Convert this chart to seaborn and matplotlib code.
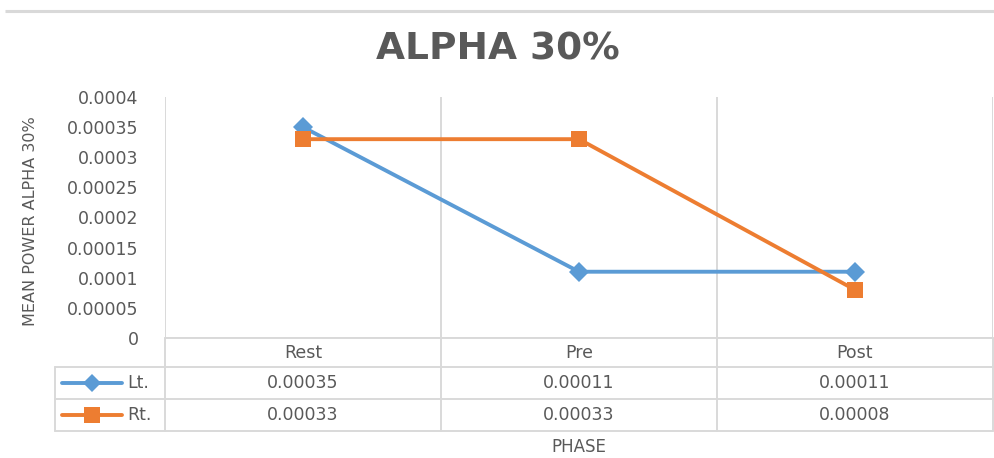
import matplotlib
matplotlib.use("Agg")
import matplotlib.pyplot as plt
import seaborn as sns
import pandas as pd
from matplotlib.ticker import FixedLocator, FuncFormatter

# ---- data ----
phases = ["Rest", "Pre", "Post"]
series_names = ["Lt.", "Rt."]
lt_values = [0.00035, 0.00011, 0.00011]
rt_values = [0.00033, 0.00033, 0.00008]
table_lt = ["0.00035", "0.00011", "0.00011"]
table_rt = ["0.00033", "0.00033", "0.00008"]
y_ticks = [0, 0.00005, 0.0001, 0.00015, 0.0002, 0.00025, 0.0003, 0.00035, 0.0004]
title = "ALPHA 30%"
y_label = "MEAN POWER ALPHA 30%"
x_label = "PHASE"

df = pd.DataFrame({
    "phase": phases * 2,
    "value": lt_values + rt_values,
    "series": [series_names[0]] * 3 + [series_names[1]] * 3,
})

sns.set_theme(style="white")
plt.rcParams["font.family"] = ["DejaVu Sans"]

BLUE = "#5B9BD5"
ORANGE = "#ED7D31"
GRID = "#D9D9D9"
TXT = "#595959"
palette = {series_names[0]: BLUE, series_names[1]: ORANGE}
markers = {series_names[0]: "D", series_names[1]: "s"}
msize = {series_names[0]: 10, series_names[1]: 12}

W, H = 994, 458
fig = plt.figure(figsize=(W / 100, H / 100), dpi=100)
fig.patch.set_facecolor("white")

L, R, T, B = 165, 993, 97, 338
ax = fig.add_axes([L / W, (H - B) / H, (R - L) / W, (B - T) / H])
ax.set_facecolor("none")

sns.lineplot(data=df, x="phase", y="value", hue="series", style="series",
             palette=palette, markers=markers, dashes=False, sort=False,
             linewidth=2.8, markersize=10, markeredgewidth=0, ax=ax,
             legend=False, zorder=5)
for line, s in zip(ax.lines, series_names):
    line.set_markersize(msize[s])
    line.set_clip_on(False)

n = len(phases)
ax.set_xlim(-0.5, n - 0.5)
ax.set_ylim(0, 0.0004)
for sp in ax.spines.values():
    sp.set_visible(False)
for xv in [i - 0.5 for i in range(n + 1)]:
    ax.axvline(xv, color=GRID, lw=1.4, zorder=1)
ax.axhline(0, color=GRID, lw=1.4, zorder=1)

ax.yaxis.set_major_locator(FixedLocator(y_ticks))
ax.yaxis.set_major_formatter(FuncFormatter(
    lambda v, p: "0" if v == 0 else f"{v:.5f}".rstrip("0").rstrip(".")))
ax.tick_params(axis="y", length=0, pad=19, labelsize=12.5, labelcolor=TXT)
ax.set_xticks([])
ax.set_xlabel("")
ax.set_ylabel("")

# ---- overlay in pixel coordinates for title, table, labels ----
ov = fig.add_axes([0, 0, 1, 1], zorder=-1)
ov.set_xlim(0, W)
ov.set_ylim(H, 0)
ov.axis("off")

def px(xd):
    return ax.transData.transform((xd, 0))[0]

ov.plot([5, W], [11, 11], color=GRID, lw=2.2, solid_capstyle="butt")
ov.text(W / 2 + 1, 50, title, ha="center", va="center", fontsize=27,
        fontweight="bold", color=TXT)
ov.text(31, (T + B) / 2 + 4, y_label, rotation=90, ha="center", va="center",
        fontsize=11.5, color=TXT)

edges = [px(i - 0.5) for i in range(n + 1)]
rows = [B, 367, 399, 431]
leg_left = 55
# horizontal table lines
ov.plot([edges[0], edges[-1]], [rows[0], rows[0]], color=GRID, lw=1.4)
for yv in rows[1:]:
    ov.plot([leg_left, edges[-1]], [yv, yv], color=GRID, lw=1.4)
# vertical table lines
for xv in edges:
    ov.plot([xv, xv], [rows[0], rows[-1]], color=GRID, lw=1.4)
ov.plot([leg_left, leg_left], [rows[1], rows[-1]], color=GRID, lw=1.4)

centers = [px(i) for i in range(n)]
cy = [(rows[i] + rows[i + 1]) / 2 for i in range(3)]
for c, p in zip(centers, phases):
    ov.text(c, cy[0], p, ha="center", va="center", fontsize=12.5, color=TXT)
for c, v in zip(centers, table_lt):
    ov.text(c, cy[1], v, ha="center", va="center", fontsize=12.5, color=TXT)
for c, v in zip(centers, table_rt):
    ov.text(c, cy[2], v, ha="center", va="center", fontsize=12.5, color=TXT)

for s, yv in zip(series_names, cy[1:]):
    ov.plot([62, 122], [yv, yv], color=palette[s], lw=2.8,
            solid_capstyle="round")
    ov.plot([92], [yv], marker=markers[s], color=palette[s],
            markersize=msize[s] - 1, markeredgewidth=0)
    ov.text(127, yv, s, ha="left", va="center", fontsize=12.5, color=TXT)

ov.text((L + R) / 2, 447, x_label, ha="center", va="center", fontsize=12,
        color=TXT)

fig.savefig("out.png", dpi=100)
